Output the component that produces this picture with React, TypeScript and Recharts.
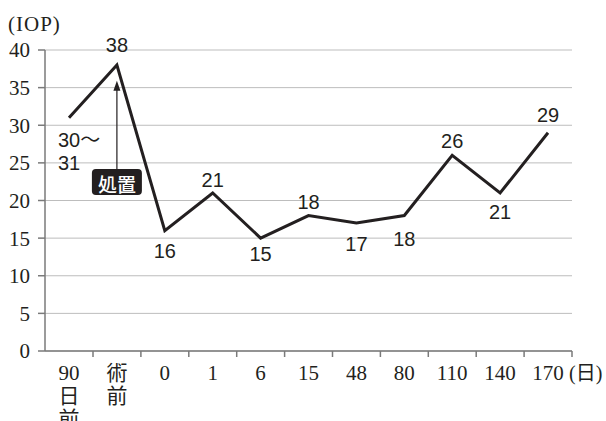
import React from "react";

import { CartesianGrid, Line, LineChart, ReferenceDot, ReferenceLine, XAxis, YAxis } from "recharts";

const categories = ["90日前", "術前", "0", "1", "6", "15", "48", "80", "110", "140", "170"];
const iop = [31, 38, 16, 21, 15, 18, 17, 18, 26, 21, 29];
const pointLabels = [["30〜", "31"], ["38"], ["16"], ["21"], ["15"], ["18"], ["17"], ["18"], ["26"], ["21"], ["29"]];
const tickLines = [["90", "日", "前"], ["術", "前"], ["0"], ["1"], ["6"], ["15"], ["48"], ["80"], ["110"], ["140"], ["170"]];
const yTicks = [0, 5, 10, 15, 20, 25, 30, 35, 40];

// vertical offset of each value label from its point (px)
const labelDy = [22, -20, 20, -13, 16, -14, 21, 23, -14, 19, -18];

const data = categories.map((cat, i) => ({ cat, iop: iop[i] }));

const ink = "#231f20";
const axisGray = "#7a7a7a";
const serif = "'Liberation Serif', 'Noto Sans CJK JP', serif";
const sans = "'Liberation Sans', 'Noto Sans CJK JP', sans-serif";
const halfBand = 24;

const renderPoint = (props: any) => {
  const { cx, cy, index } = props;
  const lines = pointLabels[index];
  const dy = labelDy[index];
  if (lines.length > 1) {
    return (
      <g key={`pt-${index}`}>
        {lines.map((t, j) => (
          <text key={j} x={cx - 11} y={cy + dy + j * 23} textAnchor="start" dominantBaseline="central"
            fontFamily={sans} fontSize={20} fill={ink}>
            {t}
          </text>
        ))}
      </g>
    );
  }
  return (
    <text key={`pt-${index}`} x={cx} y={cy + dy} textAnchor="middle" dominantBaseline="central"
      fontFamily={sans} fontSize={20} fill={ink}>
      {lines[0]}
    </text>
  );
};

const XTick = (props: any) => {
  const { x, y, index } = props;
  const lines = tickLines[index] || [];
  const last = index === categories.length - 1;
  return (
    <g>
      <line x1={x + halfBand} x2={x + halfBand} y1={y} y2={y + 6} stroke={axisGray} strokeWidth={1.5} />
      {lines.map((t, j) => (
        <text key={j} x={x} y={y + 29 + j * 23} textAnchor="middle" fontFamily={serif} fontSize={21} fill={ink}>
          {t}
        </text>
      ))}
      {last && (
        <text x={x + halfBand - 3} y={y + 29} textAnchor="start" fontFamily={serif} fontSize={20} fill={ink}>
          (日)
        </text>
      )}
    </g>
  );
};

const Arrow = (props: any) => {
  const { x1, y1, x2, y2 } = props;
  const top = Math.min(y1, y2);
  const bottom = Math.max(y1, y2);
  return (
    <g>
      <line x1={x1} x2={x2} y1={bottom} y2={top + 8} stroke={ink} strokeWidth={1.2} />
      <polygon points={`${x1},${top} ${x1 - 3.5},${top + 10} ${x1 + 3.5},${top + 10}`} fill={ink} />
    </g>
  );
};

const TreatmentBox = (props: any) => {
  const { cx, cy } = props;
  return (
    <g>
      <rect x={cx - 25} y={cy - 13} width={50} height={26} rx={4} fill={ink} />
      <text x={cx} y={cy + 1} textAnchor="middle" dominantBaseline="central"
        fontFamily="'Noto Sans CJK JP', sans-serif" fontWeight={500} fontSize={19} fill="#fff">
        処置
      </text>
    </g>
  );
};

const App = () => {
  return (
    <div style={{ position: "absolute", left: 0, top: 0, width: 606, height: 421 }}>
      <div style={{ position: "absolute", left: 8, top: 12, fontFamily: serif, fontSize: 21, color: ink, letterSpacing: 1 }}>
        (IOP)
      </div>
      <LineChart width={606} height={421} data={data} margin={{ top: 50, right: 34, left: 0, bottom: 10 }}>
        <CartesianGrid vertical={false} stroke="#bdbdbd" strokeWidth={1} />
        <XAxis
          dataKey="cat"
          type="category"
          padding={{ left: halfBand, right: halfBand }}
          interval={0}
          tickLine={false}
          tickSize={0}
          tickMargin={0}
          axisLine={{ stroke: axisGray, strokeWidth: 1.5 }}
          tick={<XTick />}
          height={60}
        />
        <YAxis
          domain={[0, 40]}
          ticks={yTicks}
          width={45}
          tickSize={7}
          tickMargin={8}
          axisLine={{ stroke: axisGray, strokeWidth: 1.5 }}
          tickLine={{ stroke: axisGray, strokeWidth: 1.5 }}
          tick={{ fontFamily: serif, fontSize: 21, fill: ink }}
        />
        <ReferenceLine
          segment={[{ x: "術前", y: 24.05 }, { x: "術前", y: 35.9 }]}
          shape={<Arrow />}
        />
        <ReferenceDot x="術前" y={22.45} r={1} shape={<TreatmentBox />} />
        <Line
          type="linear"
          dataKey="iop"
          stroke={ink}
          strokeWidth={3}
          dot={renderPoint}
          activeDot={false}
          isAnimationActive={false}
        />
      </LineChart>
    </div>
  );
};

export default App;
